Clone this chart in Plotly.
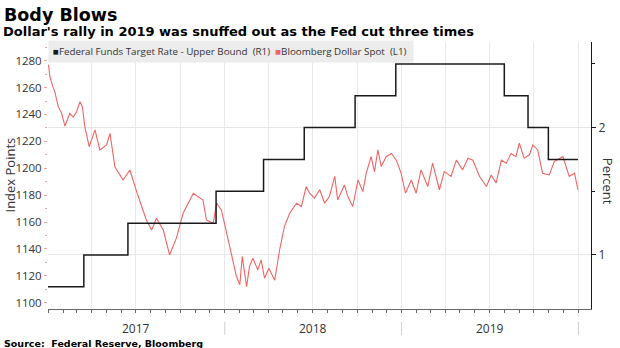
import plotly.graph_objects as go

# Federal funds target rate, upper bound (percent) - effective dates of each change
fed_dates = ["2017-01-01", "2017-03-16", "2017-06-15", "2017-12-14", "2018-03-22",
             "2018-06-14", "2018-09-27", "2018-12-20", "2019-08-01", "2019-09-19",
             "2019-10-31", "2019-12-31"]
fed_rate = [0.75, 1.00, 1.25, 1.50, 1.75, 2.00, 2.25, 2.50, 2.25, 2.00, 1.75, 1.75]

# Bloomberg Dollar Spot index (index points)
dxy_dates = [
    "2017-01-02", "2017-01-05", "2017-01-11", "2017-01-15", "2017-01-22", "2017-01-29",
    "2017-02-05", "2017-02-15", "2017-02-22", "2017-03-01", "2017-03-08", "2017-03-13",
    "2017-03-18", "2017-03-27", "2017-04-08", "2017-04-18", "2017-05-02", "2017-05-09",
    "2017-05-19", "2017-06-05", "2017-06-19", "2017-07-03", "2017-07-23", "2017-08-03",
    "2017-08-13", "2017-08-27", "2017-09-09", "2017-09-23", "2017-10-07", "2017-10-28",
    "2017-11-17", "2017-11-24", "2017-12-08", "2017-12-15", "2017-12-25", "2018-01-04",
    "2018-01-15", "2018-01-25", "2018-02-01", "2018-02-06", "2018-02-15", "2018-02-21",
    "2018-02-28", "2018-03-10", "2018-03-17", "2018-03-24", "2018-04-02", "2018-04-14",
    "2018-04-24", "2018-05-04", "2018-05-15", "2018-05-29", "2018-06-08", "2018-06-18",
    "2018-06-25", "2018-07-05", "2018-07-16", "2018-07-26", "2018-08-05", "2018-08-16",
    "2018-08-22", "2018-09-05", "2018-09-12", "2018-09-22", "2018-10-03", "2018-10-13",
    "2018-10-20", "2018-10-30", "2018-11-06", "2018-11-13", "2018-11-20", "2018-11-30",
    "2018-12-11", "2018-12-21", "2018-12-31", "2019-01-09", "2019-01-21", "2019-01-31",
    "2019-02-10", "2019-02-24", "2019-03-06", "2019-03-20", "2019-03-30", "2019-04-13",
    "2019-04-24", "2019-05-07", "2019-05-18", "2019-05-28", "2019-06-11", "2019-06-25",
    "2019-07-05", "2019-07-15", "2019-07-26", "2019-08-05", "2019-08-15", "2019-08-25",
    "2019-09-01", "2019-09-11", "2019-09-22", "2019-09-29", "2019-10-09", "2019-10-19",
    "2019-11-02", "2019-11-12", "2019-11-30", "2019-12-13", "2019-12-24", "2019-12-31",
]
dxy_value = [
    1277.0, 1268.0, 1260.7, 1257.0, 1246.0, 1241.0,
    1231.4, 1240.8, 1238.0, 1242.0, 1249.5, 1245.8,
    1231.0, 1216.0, 1228.5, 1213.6, 1217.3, 1226.0,
    1201.0, 1191.3, 1198.7, 1182.6, 1161.5, 1154.0,
    1162.8, 1154.0, 1135.5, 1148.0, 1166.5, 1181.4,
    1176.4, 1161.5, 1159.0, 1174.0, 1169.0, 1154.0,
    1135.5, 1119.5, 1113.3, 1134.4, 1112.0, 1127.0,
    1133.0, 1124.4, 1131.8, 1118.2, 1125.6, 1116.7,
    1139.0, 1156.6, 1166.5, 1174.0, 1171.5, 1186.4,
    1181.4, 1177.8, 1184.0, 1174.0, 1179.0, 1193.9,
    1176.4, 1187.6, 1179.0, 1171.5, 1191.3, 1182.6,
    1196.3, 1208.6, 1197.5, 1213.6, 1201.2, 1208.6,
    1211.0, 1206.0, 1196.3, 1181.4, 1191.3, 1181.4,
    1198.8, 1186.4, 1203.8, 1184.0, 1197.5, 1193.9,
    1206.0, 1198.8, 1207.5, 1206.0, 1193.9, 1186.4,
    1195.0, 1189.0, 1206.0, 1203.8, 1211.0, 1208.6,
    1218.6, 1207.5, 1210.0, 1217.3, 1213.6, 1196.3,
    1195.0, 1205.0, 1208.6, 1193.9, 1196.3, 1184.0,
]

year_labels = ["2017", "2018", "2019"]
year_mid = ["2017-07-02", "2018-07-02", "2019-07-02"]
year_breaks = ["2018-01-01", "2019-01-01", "2020-01-01"]

RED = "#f06464"
BLACK = "#1a1a1a"
LABEL_FONT = "Open Sans"
BOLD_FONT = "DejaVu Sans"

fig = go.Figure()

fig.add_trace(go.Scatter(
    x=dxy_dates, y=dxy_value, mode="lines", yaxis="y",
    line=dict(color=RED, width=1.1), name="Bloomberg Dollar Spot (L1)",
))
fig.add_trace(go.Scatter(
    x=fed_dates, y=fed_rate, mode="lines", yaxis="y2",
    line=dict(color=BLACK, width=1.5, shape="hv"),
    name="Federal Funds Target Rate - Upper Bound (R1)",
))

fig.update_layout(
    width=620, height=348,
    margin=dict(l=48, r=29, t=42, b=39),
    paper_bgcolor="white", plot_bgcolor="white",
    showlegend=False,
    xaxis=dict(
        type="date", range=["2017-01-01", "2020-01-27"],
        showgrid=True, gridcolor="#e9e9e9", gridwidth=1,
        tick0="2017-01-01", dtick="M3",
        ticks="outside", ticklen=3, tickcolor="#666",
        showticklabels=False,
        showline=True, linecolor="#666", linewidth=1,
        minor=dict(dtick="M1", ticks="outside", ticklen=3,
                   tickcolor="#666", showgrid=False),
    ),
    yaxis=dict(
        range=[1095.3, 1293.9], tick0=1100, dtick=20,
        showgrid=False, zeroline=False, showline=False,
        ticks="outside", ticklen=3, tickcolor="#f3a3a3",
        tickfont=dict(family=LABEL_FONT, size=11.5, color="#333"),
        minor=dict(dtick=10, ticks="outside", ticklen=2, tickcolor="#f3a3a3"),
    ),
    yaxis2=dict(
        overlaying="y", side="right",
        range=[0.576, 2.672], tick0=0, dtick=1,
        showgrid=True, gridcolor="#e6e6e6", zeroline=False,
        showline=True, linecolor=BLACK, linewidth=1,
        ticks="outside", ticklen=4, tickcolor=BLACK,
        tickfont=dict(family=LABEL_FONT, size=12, color="#333"),
        minor=dict(dtick=0.5, ticks="outside", ticklen=3, tickcolor=BLACK),
    ),
)

legend_text = (
    f"<span style='color:{BLACK}'>\u25a0</span>Federal Funds Target Rate - Upper Bound\u00a0 (R1)"
    f"\u00a0 <span style='color:{RED}'>\u25a0</span>Bloomberg Dollar Spot\u00a0 (L1)\u00a0"
)

annotations = [
    dict(text="<b>Body Blows</b>", xref="paper", yref="paper", x=0, y=1,
         xshift=-46, yshift=39, xanchor="left", yanchor="top", showarrow=False,
         font=dict(family=BOLD_FONT, size=17.5, color="#000")),
    dict(text="<b>Dollar's rally in 2019 was snuffed out as the Fed cut three times</b>",
         xref="paper", yref="paper", x=0, y=1, xshift=-47, yshift=20,
         xanchor="left", yanchor="top", showarrow=False,
         font=dict(family=BOLD_FONT, size=13, color="#000")),
    dict(text="<b>Source:\u00a0 Federal Reserve, Bloomberg</b>",
         xref="paper", yref="paper", x=0, y=0, xshift=-46, yshift=-27,
         xanchor="left", yanchor="top", showarrow=False,
         font=dict(family=BOLD_FONT, size=9.5, color="#000")),
    dict(text=legend_text,
         xref="paper", yref="paper", x=0, y=1, xanchor="left", yanchor="top",
         yshift=2, showarrow=False, bgcolor="#ececec", borderpad=4,
         font=dict(family=LABEL_FONT, size=9.8, color="#333")),
    dict(text="Index Points", xref="paper", yref="paper", x=0, y=0.5,
         xshift=-39, xanchor="center", yanchor="middle", textangle=-90,
         showarrow=False, font=dict(family=LABEL_FONT, size=13, color="#333")),
    dict(text="Percent", xref="paper", yref="paper", x=1, y=0.48,
         xshift=17, xanchor="center", yanchor="middle", textangle=90,
         showarrow=False, font=dict(family=LABEL_FONT, size=13, color="#333")),
]
for lbl, mid in zip(year_labels, year_mid):
    annotations.append(dict(text=lbl, x=mid, xref="x", yref="paper", y=0,
                            yshift=-19, yanchor="middle", showarrow=False,
                            font=dict(family=LABEL_FONT, size=12, color="#333")))
fig.update_layout(annotations=annotations)

for b in year_breaks:
    fig.add_shape(type="line", x0=b, x1=b, xref="x", yref="paper",
                  y0=-0.048, y1=-0.097, line=dict(color="#cfcfcf", width=1))

fig.write_html("out.html")
